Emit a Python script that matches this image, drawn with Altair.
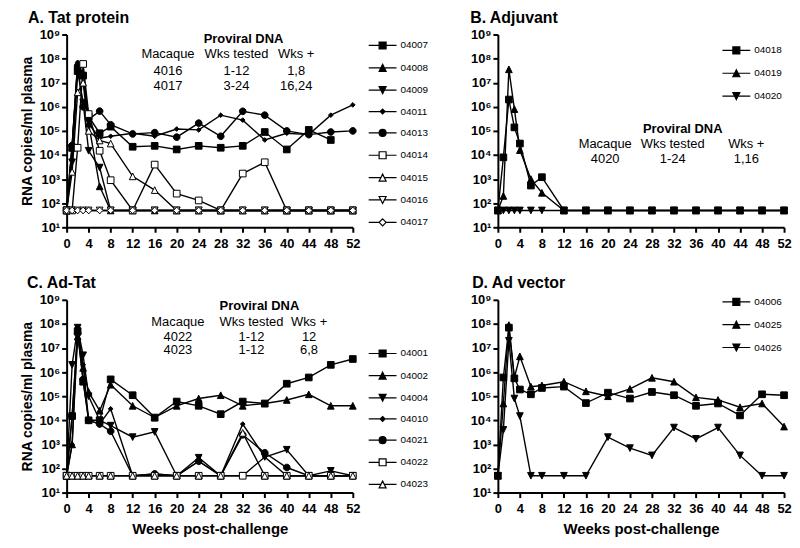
import altair as alt
import pandas as pd

FONT = "Liberation Sans"
WEEKS = [0, 1, 2, 3, 4, 6, 8, 12, 16, 20, 24, 28, 32, 36, 40, 44, 48, 52]
XTICKS = list(range(0, 53, 4))
YTICKS = [1e1, 1e2, 1e3, 1e4, 1e5, 1e6, 1e7, 1e8, 1e9]

# ---- Panel A: Tat protein ----
a_ids = ["04007", "04008", "04009", "04011", "04013", "04014", "04015", "04016", "04017"]
a_04007 = [50, 2e4, 3e7, 2e7, 4e5, 8e4, 1.5e5, 2.2e4, 2.4e4, 1.7e4, 2.4e4, 2e4, 2.4e4, 9e4, 1.7e4, 1.1e5, 4.2e4, None]
a_04008 = [50, 2e4, 6e7, 2e7, 2e5, 5e2, 50, 50, 50, 50, 50, 50, 50, 50, 50, 50, 50, 50]
a_04009 = [50, 5e3, 3e7, 1.5e6, 1.5e4, 3e3, 50, 50, 50, 50, 50, 50, 50, 50, 50, 50, 50, 50]
a_04011 = [50, 2.5e4, 7e7, 2e7, 2e5, 5e4, 6e4, 8e4, 6e4, 1.2e5, 1.1e5, 4.5e5, 2.8e5, 4.2e4, 8e4, 7e4, 4.5e5, 1.2e6]
a_04013 = [50, 2.5e4, 5e7, 1e6, 3e5, 6.6e5, 1.8e5, 7.5e4, 8.5e4, 5.5e4, 2.1e5, 6e4, 6.5e5, 4.5e5, 1e5, 7e4, 9e4, 1e5]
a_04014 = [50, 50, 2e4, 6e7, 5e5, 1.5e4, 9e2, 50, 4e3, 2.5e2, 1.3e2, 50, 1.7e3, 5e3, 50, 50, 50, 50]
a_04015 = [50, 2e3, 4e6, 1e7, 1e5, 4e4, 3e4, 1.3e3, 3.5e2, 50, 50, 50, 50, 50, 50, 50, 50, 50]
a_04016 = [50, 50, 50, 50, 50, 50, 50, 50, 50, 50, 50, 50, 50, 50, 50, 50, 50, 50]
a_04017 = [50, 50, 50, 50, 50, 50, 50, 50, 50, 50, 50, 50, 50, 50, 50, 50, 50, 50]
a_table = [["Macaque", "Wks tested", "Wks +"], ["4016", "1-12", "1,8"], ["4017", "3-24", "16,24"]]

# ---- Panel B: Adjuvant ----
b_ids = ["04018", "04019", "04020"]
b_04018 = [50, 8e3, 2e6, 1.4e5, 3e4, 5.4e2, 1.2e3, 50, 50, 50, 50, 50, 50, 50, 50, 50, 50, 50]
b_04019 = [50, 2e2, 3.6e7, 8e5, 1.6e4, 1e3, 2.7e2, 50, 50, 50, 50, 50, 50, 50, 50, 50, 50, 50]
b_04020 = [50, 50, 50, 50, 50, 50, 50, 50, 50, 50, 50, 50, 50, 50, 50, 50, 50, 50]
b_table = [["Macaque", "Wks tested", "Wks +"], ["4020", "1-24", "1,16"]]

# ---- Panel C: Ad-Tat ----
c_ids = ["04001", "04002", "04004", "04010", "04021", "04022", "04023"]
c_04001 = [50, 1.5e4, 5e7, 4e5, 1e4, 1e4, 5e5, 1.1e5, 1.3e4, 6e4, 4e4, 1.8e4, 6e4, 5e4, 3.3e5, 6e5, 2e6, 3.5e6]
c_04002 = [50, 1e3, 3e7, 1.5e6, 1.5e5, 2.5e4, 3e5, 4e4, 1.3e4, 4e4, 8e4, 1.1e5, 4e4, 5e4, 7e4, 1.2e5, 4e4, 4e4]
c_04004 = [50, 2e6, 7e7, 5e6, 1e5, 1e4, 6e3, 2e3, 3.3e3, 50, 2.8e2, 50, 50, 3e2, 6e2, 50, 80, 50]
c_04010 = [50, 1e3, 7e7, 2e6, 1e4, 7e3, 3e4, 50, 60, 50, 2e2, 50, 7e3, 3e2, 50, 50, 50, 50]
c_04021 = [50, 1.5e4, 4e7, 5e5, 1e4, 7e3, 3.5e3, 50, 60, 50, 2e2, 50, 2.5e3, 4.5e2, 1.1e2, 50, 50, 50]
c_04022 = [50, 50, 50, 50, 50, 50, 50, 50, 50, 50, 50, 50, 50, 50, 50, 50, 50, 50]
c_04023 = [50, 50, 50, 50, 50, 50, 50, 50, 50, 50, 50, 50, 3e3, 50, 50, 50, 50, 50]
c_table = [["Macaque", "Wks tested", "Wks +"], ["4022", "1-12", "12"], ["4023", "1-12", "6,8"]]

# ---- Panel D: Ad vector ----
d_ids = ["04006", "04025", "04026"]
d_04006 = [50, 6e5, 7e7, 5.5e5, 1.9e5, 1.2e5, 2.2e5, 2.5e5, 5.2e4, 1.4e5, 8e4, 1.5e5, 1.1e5, 4e4, 5e4, 1.6e4, 1.2e5, 1.1e5]
d_04025 = [50, 5e4, 9e7, 6e5, 4.5e6, 2.5e5, 2.8e5, 4e5, 1.6e5, 1e5, 2e5, 5.8e5, 4e5, 9e4, 7e4, 3.5e4, 5e4, 5.5e3]
d_04026 = [50, 4e3, 2e7, 8e4, 1.5e4, 50, 50, 50, 50, 2e3, 7e2, 3.5e2, 5e3, 1.7e3, 5e3, 3.5e2, 50, 50]

# ---- marker styles ----
SEG = "M-4,0H-1M1,0H4"
SEG_T = "M-4,0H-0.5M0.5,0H4"
SEG_S = "M-4,0H-0.7M0.7,0H4"
SQ = "M-1,-1H1V1H-1Z"
TU = "M0,-1L1,1H-1Z"
TD = "M0,1L1,-1H-1Z"
DI = "M0,-1L1,0L0,1L-1,0Z"
DS = "M0,-0.7L0.7,0L0,0.7L-0.7,0Z"
CI = "M1,0A1,1,0,1,1,-1,0A1,1,0,1,1,1,0Z"
MK = {"sq": (SQ, SEG), "tu": (TU, SEG_T), "td": (TD, SEG_T), "di": (DI, SEG), "ds": (DS, SEG_S), "ci": (CI, SEG)}


def long_df(ids, series):
    rows = []
    for i, s in zip(ids, series):
        for w, v in zip(WEEKS, s):
            if v is not None:
                rows.append({"id": i, "week": w, "rna": v})
    return pd.DataFrame(rows)


def panel(ids, series, kinds, fills, title, ytitle, xtitle, leg_pos, rowpad, table_rows, table_pos, tdx):
    df = long_df(ids, series)
    xs = alt.Scale(domain=[0, 52], nice=False, zero=False)
    ys = alt.Scale(type="log", domain=[10, 1e9], nice=False)
    xax = alt.Axis(values=XTICKS, title=xtitle, titleFontSize=15, titlePadding=6, labelFlush=False,
                   labelPadding=5)
    yax = alt.Axis(values=YTICKS, title=ytitle, titleFontSize=14, titlePadding=4, labelFlush=False,
                   labelPadding=2,
                   labelExpr="'10' + ['⁰','¹','²','³','⁴','⁵','⁶','⁷','⁸','⁹'][round(log(datum.value)/LN10)]")
    x = alt.X("week:Q", scale=xs, axis=xax)
    y = alt.Y("rna:Q", scale=ys, axis=yax)
    base = alt.Chart(df)
    lines = base.mark_line(color="black", strokeWidth=1.4).encode(x=x, y=y, detail="id:N")
    shapes = [MK[k][0] for k in kinds]
    legpaths = [MK[k][1] + MK[k][0] for k in kinds]
    points = base.mark_point(filled=True, opacity=1, stroke="black", strokeWidth=1, size=45).encode(
        x=x, y=y,
        shape=alt.Shape("id:N", scale=alt.Scale(domain=ids, range=shapes), legend=None),
        fill=alt.Fill("id:N", scale=alt.Scale(domain=ids, range=fills), legend=None),
    )
    lg = alt.Legend(title=None, orient="none", legendX=leg_pos[0], legendY=leg_pos[1],
                    labelFont=FONT, labelFontSize=10, labelColor="black", symbolSize=49,
                    symbolStrokeColor="black", symbolStrokeWidth=1.2, symbolOpacity=1,
                    labelOffset=13, rowPadding=rowpad, padding=0)
    leg = base.transform_filter("false").mark_point(filled=True, opacity=1, strokeWidth=1.2).encode(
        x=x, y=y,
        shape=alt.Shape("id:N", scale=alt.Scale(domain=ids, range=legpaths), legend=lg),
        fill=alt.Fill("id:N", scale=alt.Scale(domain=ids, range=fills), legend=lg),
        stroke=alt.Stroke("id:N", scale=alt.Scale(domain=ids, range=["black"] * len(ids)), legend=lg),
    )
    layers = [lines, points, leg]
    if table_rows:
        cx, cy, cols, rys = table_pos
        cells = [("Proviral DNA", cx, cy, "bold")]
        for r, row in enumerate(table_rows):
            for c, t in enumerate(row):
                cells.append((t, cols[c], rys[r], "normal"))
        for t, px, py, fw in cells:
            layers.append(
                alt.Chart(pd.DataFrame({"t": [t]})).mark_text(
                    font=FONT, fontSize=13, fontWeight=fw, color="black", align="center", baseline="middle"
                ).encode(text="t:N", x=alt.value(px), y=alt.value(py))
            )
    return alt.layer(*layers).resolve_scale(shape="independent", fill="independent", stroke="independent").properties(
        width=288, height=194,
        title=alt.Title(title, anchor="start", frame="bounds", font=FONT, fontSize=16,
                        fontWeight="bold", color="black", offset=3, dx=tdx),
    )


K = "black"
W = "white"
A = panel(a_ids, [a_04007, a_04008, a_04009, a_04011, a_04013, a_04014, a_04015, a_04016, a_04017],
          ["sq", "tu", "td", "ds", "ci", "sq", "tu", "td", "di"], [K, K, K, K, K, W, W, W, W],
          "A. Tat protein", "RNA copies/ml plasma", None, (313, 6), 10.5,
          a_table, (178, 5, [102, 171, 231], [20, 37, 52]), 7)
B = panel(b_ids, [b_04018, b_04019, b_04020], ["sq", "tu", "td"], [K, K, K],
          "B. Adjuvant", None, None, (235, 11), 11,
          b_table, (186, 95, [108, 176, 250], [110, 125]), 0)
C = panel(c_ids, [c_04001, c_04002, c_04004, c_04010, c_04021, c_04022, c_04023],
          ["sq", "tu", "td", "ds", "ci", "sq", "tu"], [K, K, K, K, K, W, W],
          "C. Ad-Tat", "RNA copies/ml plasma", "Weeks post-challenge", (313, 49), 10.3,
          c_table, (194, 6, [112, 186, 244], [22, 37, 51]), 6)
D = panel(d_ids, [d_04006, d_04025, d_04026], ["sq", "tu", "td"], [K, K, K],
          "D. Ad vector", None, "Weeks post-challenge", (235, -3), 11,
          None, None, 2)

chart = alt.concat(A, B, C, D, columns=2, spacing={"row": 25, "column": 42}).properties(
    padding={"left": 13, "top": 0, "right": 0, "bottom": 0}
).configure_axis(
    domainColor="black", domainWidth=2, tickColor="black", tickWidth=2, tickSize=5,
    labelFont=FONT, labelFontSize=13, labelFontWeight="bold", labelColor="black",
    titleFont=FONT, titleFontWeight="bold", titleColor="black", grid=False,
).configure_view(stroke=None)

chart.save("out.html", embed_options={"renderer": "svg", "actions": False})
